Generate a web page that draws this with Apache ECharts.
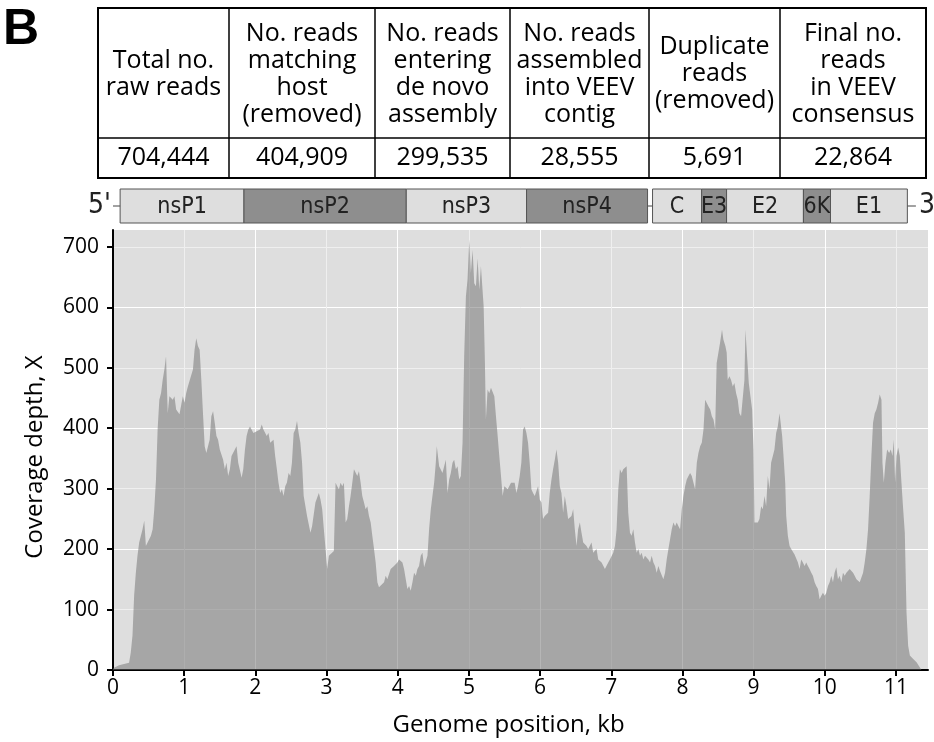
<!DOCTYPE html>
<html><head><meta charset="utf-8">
<script src="https://cdn.jsdelivr.net/npm/echarts@6/dist/echarts.min.js"></script>
<style>html,body{margin:0;padding:0;background:#fff}#c{width:934px;height:742px}</style>
</head><body><div id="c"></div>
<script>
// ---- data ----
const positionKb = [0.000,0.085,0.226,0.250,0.274,0.297,0.321,0.344,0.368,0.392,0.415,0.439,0.462,0.486,0.533,0.557,0.580,0.604,0.627,0.651,0.675,0.698,0.722,0.745,0.769,0.792,0.816,0.840,0.863,0.887,0.934,0.958,0.981,1.005,1.028,1.052,1.075,1.099,1.123,1.146,1.170,1.193,1.217,1.241,1.264,1.288,1.311,1.335,1.358,1.382,1.406,1.429,1.453,1.476,1.500,1.547,1.571,1.594,1.618,1.642,1.665,1.712,1.736,1.759,1.807,1.830,1.854,1.877,1.901,1.925,1.972,2.019,2.066,2.090,2.113,2.160,2.184,2.208,2.255,2.278,2.302,2.325,2.349,2.373,2.396,2.420,2.443,2.467,2.491,2.514,2.538,2.561,2.585,2.608,2.632,2.656,2.679,2.726,2.774,2.797,2.844,2.892,
2.915,2.939,2.962,2.986,3.009,3.033,3.056,3.103,3.127,3.150,3.174,3.197,3.221,3.244,3.268,3.291,3.315,3.338,3.362,3.385,3.408,3.432,3.455,3.479,3.502,3.526,3.549,3.573,3.596,3.620,3.643,3.667,3.690,3.714,3.737,3.761,3.808,3.831,3.854,3.901,3.948,3.995,4.019,4.042,4.066,4.089,4.113,4.136,4.160,4.183,4.207,4.230,4.254,4.277,4.300,4.324,4.347,4.371,4.394,4.418,4.441,4.465,4.488,4.512,4.535,4.549,4.582,4.629,4.653,4.676,4.700,4.723,4.746,4.770,4.793,4.817,4.840,4.864,4.887,4.911,4.934,4.958,4.981,5.005,5.028,5.052,5.075,5.099,5.122,5.146,5.169,5.192,5.207,5.225,5.239,5.263,5.286,5.310,5.333,5.357,5.380,5.404,5.427,5.451,5.474,5.498,5.545,5.592,
5.643,5.667,5.690,5.714,5.737,5.761,5.784,5.808,5.831,5.854,5.878,5.901,5.925,5.948,5.972,5.995,6.019,6.042,6.066,6.089,6.113,6.136,6.160,6.183,6.207,6.230,6.254,6.277,6.300,6.324,6.347,6.371,6.394,6.441,6.465,6.488,6.512,6.535,6.559,6.582,6.606,6.653,6.676,6.723,6.746,6.793,6.817,6.864,6.911,6.958,6.981,7.005,7.028,7.052,7.075,7.099,7.122,7.146,7.169,7.192,7.216,7.239,7.263,7.286,7.310,7.333,7.357,7.380,7.404,7.427,7.451,7.474,7.521,7.545,7.568,7.592,7.615,7.638,7.662,7.685,7.709,7.732,7.756,7.779,7.803,7.826,7.850,7.873,7.897,7.920,7.944,7.967,7.991,8.014,8.038,8.061,8.085,8.108,8.131,8.155,8.178,8.202,8.225,8.249,8.272,8.296,8.319,8.343,8.366,8.390,8.413,8.437,8.460,
8.481,8.509,8.528,8.556,8.575,8.603,8.622,8.636,8.660,8.683,8.707,8.730,8.754,8.777,8.800,8.824,8.847,8.871,8.885,8.908,8.932,8.955,8.979,8.998,9.012,9.035,9.059,9.082,9.106,9.129,9.153,9.176,9.200,9.223,9.246,9.270,9.293,9.317,9.340,9.364,9.378,9.401,9.420,9.444,9.458,9.481,9.505,9.528,9.552,9.575,9.599,9.622,9.646,9.669,9.692,9.716,9.739,9.763,9.786,9.810,9.833,9.857,9.880,9.904,9.927,9.951,9.974,9.998,10.021,10.045,10.068,10.092,10.115,10.138,10.162,10.185,10.209,10.232,10.256,10.279,10.303,10.326,10.350,10.397,10.420,10.444,10.491,10.514,10.538,10.561,10.585,10.608,10.631,10.655,10.678,10.702,10.725,10.749,10.772,10.796,10.810,10.829,10.852,10.876,10.904,10.927,10.951,10.969,10.988,11.007,11.031,11.054,11.077,11.101,11.124,11.148,11.171,11.195,11.242,11.289,11.336,11.359];

const depthX = [3,8,12,29,57,123,161,189,211,222,233,247,205,211,222,233,266,315,398,447,458,480,497,519,425,453,456,447,453,431,423,420,453,442,458,469,478,475,497,530,549,536,530,480,425,370,359,370,381,420,428,409,387,381,365,348,332,343,321,332,354,365,370,343,318,332,365,387,398,403,392,395,398,406,398,387,392,376,381,354,332,310,293,299,288,304,310,326,321,343,392,398,412,392,376,343,288,255,227,238,277,293,
282,266,233,200,167,189,189,197,310,304,299,310,304,310,244,250,271,288,310,332,332,321,329,310,288,277,266,271,255,244,222,200,178,145,137,139,145,156,150,167,172,178,183,181,178,167,150,134,139,131,145,161,156,167,172,189,194,170,167,189,233,266,288,310,343,370,337,326,326,348,293,315,326,343,348,332,337,315,321,376,519,618,646,712,657,695,640,635,681,629,668,668,602,508,414,464,458,467,464,453,420,387,354,321,288,304,299,310,
310,293,304,321,343,398,403,392,376,343,299,293,288,288,304,282,277,250,255,255,260,293,315,332,348,365,343,304,293,260,288,271,250,255,266,233,205,233,244,227,211,205,200,211,194,200,183,178,167,178,183,186,194,205,233,299,332,326,332,332,337,260,227,222,233,211,194,200,189,194,183,189,183,178,189,178,172,161,172,164,167,150,161,183,200,216,233,244,238,244,238,233,266,288,304,315,321,326,321,310,299,343,359,370,376,398,447,447,436,431,420,414,398,
508,511,541,563,547,536,525,480,486,480,469,475,458,447,425,420,423,480,563,519,475,453,431,365,244,241,244,250,271,266,288,271,321,299,343,354,365,392,403,425,428,387,354,310,255,222,205,200,200,191,189,178,167,183,178,172,178,172,167,161,156,145,139,134,117,123,128,123,128,139,145,156,145,161,170,150,156,145,161,156,161,164,167,161,156,150,145,145,161,178,200,233,288,354,409,425,431,442,456,447,343,310,343,365,359,365,354,381,310,354,368,354,310,266,227,95,40,24,18,13,4,0];

const xTicks = [0,1,2,3,4,5,6,7,8,9,10,11];
const yTicks = [0,100,200,300,400,500,600,700];

const tableHeaders = ['Total no.\nraw reads','No. reads\nmatching\nhost\n(removed)','No. reads\nentering\nde novo\nassembly','No. reads\nassembled\ninto VEEV\ncontig','Duplicate\nreads\n(removed)','Final no.\nreads\nin VEEV\nconsensus'];
const tableValues = ['704,444','404,909','299,535','28,555','5,691','22,864'];

const geneNames = ['nsP1','nsP2','nsP3','nsP4','C','E3','E2','6K','E1'];
const geneStartKb = [0.10,1.84,4.12,5.81,7.58,8.27,8.62,9.70,10.08];
const geneEndKb   = [1.84,4.12,5.81,7.51,8.27,8.62,9.70,10.08,11.16];
const geneDark    = [0,1,0,1,0,1,0,1,0];
const genomeSpanKb = [0, 11.28];
const genomeEnds = ["5'", '3'];

// ---- layout ----
const colEdges = [98,229,375,510,649,780,926];
const tTop = 8, tHead = 138, tBot = 178;
const FONT = '"Open Sans", "Noto Sans", sans-serif';
const NARROW = '"Liberation Sans Narrow", "DejaVu Sans Condensed", "Liberation Sans", sans-serif';
const TICKFONT = '21px ' + FONT;

const graphics = [
  {type:'text', left:3, top:5, style:{text:'B', font:'bold 50px "Liberation Sans", Arial, sans-serif', fill:'#000'}},
  {type:'rect', shape:{x:colEdges[0], y:tTop, width:colEdges[6]-colEdges[0], height:tBot-tTop}, style:{fill:'none', stroke:'#000', lineWidth:2}},
  {type:'line', shape:{x1:colEdges[0], y1:tHead, x2:colEdges[6], y2:tHead}, style:{stroke:'#000', lineWidth:1.5}}
];
for (let i = 1; i < colEdges.length - 1; i++) {
  graphics.push({type:'line', shape:{x1:colEdges[i], y1:tTop, x2:colEdges[i], y2:tBot}, style:{stroke:'#000', lineWidth:1.5}});
}
tableHeaders.forEach((h, i) => {
  const cx = (colEdges[i] + colEdges[i+1]) / 2;
  graphics.push({type:'text', x:cx, y:(tTop+tHead)/2+1, style:{text:h, font:'25px '+FONT, fill:'#000', align:'center', verticalAlign:'middle', lineHeight:27}});
  graphics.push({type:'text', x:cx, y:(tHead+tBot)/2, style:{text:tableValues[i], font:'25px '+FONT, fill:'#000', align:'center', verticalAlign:'middle'}});
});

const chart = echarts.init(document.getElementById('c'), null, {renderer:'canvas'});
chart.setOption({
  animation:false,
  backgroundColor:'#fff',
  graphic: graphics,
  grid:[
    {left:113, right:6, top:230, bottom:71, show:true, backgroundColor:'#dedede', borderWidth:0, containLabel:false},
    {left:113, right:6, top:189, height:34, show:false}
  ],
  xAxis:[
    {type:'value', gridIndex:0, min:0, max:11.45, interval:0.5,
     name:'Genome position, kb', nameLocation:'middle', nameGap:43,
     nameTextStyle:{fontSize:24, fontFamily:FONT, color:'#000', padding:[0,24,0,0]},
     axisLine:{show:true, onZero:false, lineStyle:{color:'#000', width:2}},
     axisTick:{show:true, length:6, customValues:xTicks, lineStyle:{color:'#000', width:2}},
     axisLabel:{show:false},
     splitLine:{show:true, lineStyle:{color:['#ffffff','#efefef'], width:1}}},
    {type:'value', gridIndex:1, min:0, max:11.45, show:false}
  ],
  yAxis:[
    {type:'value', gridIndex:0, min:0, max:728, interval:100,
     name:'Coverage depth, X', nameLocation:'middle', nameGap:66, nameRotate:90,
     nameTextStyle:{fontSize:24, fontFamily:FONT, color:'#000', padding:[0,14,0,0]},
     axisLine:{show:true, onZero:false, lineStyle:{color:'#000', width:2}},
     axisTick:{show:true, length:6, customValues:yTicks, lineStyle:{color:'#000', width:2}},
     axisLabel:{show:false},
     splitLine:{show:true, lineStyle:{color:['#ffffff','#efefef'], width:1}}},
    {type:'value', gridIndex:1, min:0, max:1, show:false}
  ],
  series:[
    {type:'line', xAxisIndex:0, yAxisIndex:0, silent:true, showSymbol:false, symbol:'none',
     data: positionKb.map((x, i) => [x, depthX[i]]),
     lineStyle:{width:0, opacity:0},
     areaStyle:{color:'rgba(110,110,110,0.5)', opacity:1}},
    // x tick labels placed through the x scale
    {type:'custom', xAxisIndex:0, yAxisIndex:0, silent:true, clip:false, z:5,
     data: xTicks.map(v => [v, 0]),
     renderItem(params, api){
       const p = api.coord([api.value(0), 0]);
       return {type:'text', style:{text:String(xTicks[params.dataIndex]), x:p[0], y:p[1]+8,
         align:'center', verticalAlign:'top', font:TICKFONT, fill:'#000'}};
     }},
    // y tick labels placed through the y scale
    {type:'custom', xAxisIndex:0, yAxisIndex:0, silent:true, clip:false, z:5,
     data: yTicks.map(v => [0, v]),
     renderItem(params, api){
       const p = api.coord([0, api.value(1)]);
       return {type:'text', style:{text:String(yTicks[params.dataIndex]), x:p[0]-14, y:p[1],
         align:'right', verticalAlign:'middle', font:TICKFONT, fill:'#000'}};
     }},
    {type:'custom', xAxisIndex:1, yAxisIndex:1, silent:true, z:3,
     data:[genomeSpanKb], encode:{x:[0,1]},
     renderItem(params, api){
       const a = api.coord([api.value(0), 0.5]);
       const b = api.coord([api.value(1), 0.5]);
       return {type:'group', children:[
         {type:'line', shape:{x1:a[0], y1:a[1], x2:b[0], y2:b[1]}, style:{stroke:'#444', lineWidth:1}},
         {type:'text', style:{text:genomeEnds[0], x:a[0]-2, y:a[1], align:'right', verticalAlign:'middle', font:'28px '+NARROW, fill:'#222'}},
         {type:'text', style:{text:genomeEnds[1], x:b[0]+3, y:a[1], align:'left', verticalAlign:'middle', font:'28px '+NARROW, fill:'#222'}}
       ]};
     }},
    {type:'custom', xAxisIndex:1, yAxisIndex:1, silent:true, z:4,
     data: geneNames.map((n, i) => [geneStartKb[i], geneEndKb[i], geneDark[i]]),
     encode:{x:[0,1]},
     renderItem(params, api){
       const p0 = api.coord([api.value(0), 1]);
       const p1 = api.coord([api.value(1), 0]);
       const dark = api.value(2) === 1;
       return {type:'group', children:[
         {type:'rect', shape:{x:p0[0], y:p0[1], width:p1[0]-p0[0], height:p1[1]-p0[1]},
          style:{fill: dark ? '#8e8e8e' : '#dedede', stroke:'#555', lineWidth:1}},
         {type:'text', style:{text:geneNames[params.dataIndex], x:(p0[0]+p1[0])/2, y:(p0[1]+p1[1])/2+1,
          align:'center', verticalAlign:'middle', font:'23px '+NARROW, fill:'#222'}}
       ]};
     }}
  ]
});
</script></body></html>
